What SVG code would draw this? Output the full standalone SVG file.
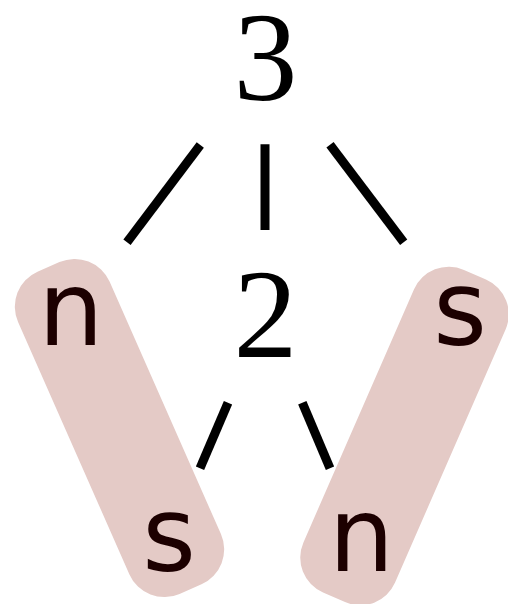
<svg xmlns="http://www.w3.org/2000/svg" width="508" height="604" viewBox="0 0 508 604">
<style>
.pill{fill:#e4cac6}
.digit{font-family:"Liberation Serif",serif;font-size:128px;fill:#000;text-anchor:middle}
.leaf{font-family:"DejaVu Sans",sans-serif;font-size:103px;fill:#1c0000;text-anchor:middle}
.edge{stroke:#000;stroke-width:9;stroke-linecap:butt;fill:none}
</style>
<rect width="508" height="604" fill="#fff"/>
<g id="highlights">
<rect class="pill" x="-50" y="-176" width="100" height="352" rx="38" transform="translate(119.5,428) rotate(-23.8)"/>
<rect class="pill" x="-50" y="-176" width="100" height="352" rx="38" transform="translate(404.5,436) rotate(23.6)"/>
</g>
<g id="connectors">
<line class="edge" x1="200.3" y1="145" x2="127" y2="242.3"/>
<line class="edge" x1="265" y1="144.3" x2="265" y2="230"/>
<line class="edge" x1="330" y1="144.7" x2="403.7" y2="242.3"/>
<line class="edge" x1="228" y1="402.7" x2="200" y2="468.3"/>
<line class="edge" x1="302.3" y1="402.7" x2="330" y2="468.3"/>
</g>
<g id="node-3"><text class="digit" x="265.5" y="100">3</text></g>
<g id="node-n1"><text class="leaf" x="71" y="345">n</text></g>
<g id="node-2"><text class="digit" x="265.5" y="357">2</text></g>
<g id="node-s1"><text class="leaf" x="460" y="345">s</text></g>
<g id="node-s2"><text class="leaf" x="169" y="571">s</text></g>
<g id="node-n2"><text class="leaf" x="361.5" y="571">n</text></g>
</svg>
